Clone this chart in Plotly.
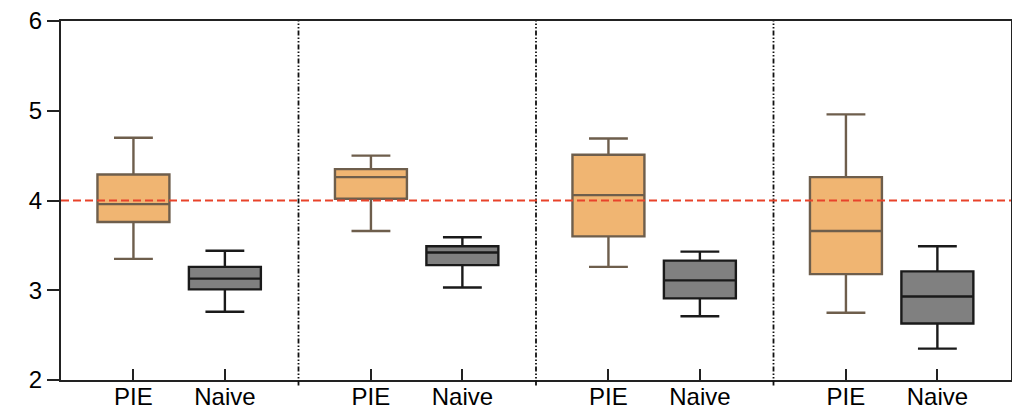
import plotly.graph_objects as go

groups = ["PIE", "Naive"]
n_panels = 4

# per panel [PIE, Naive]
upper = [[4.70, 3.44], [4.50, 3.59], [4.69, 3.43], [4.96, 3.49]]
q3 = [[4.29, 3.26], [4.35, 3.49], [4.51, 3.33], [4.26, 3.21]]
median = [[3.96, 3.13], [4.26, 3.42], [4.06, 3.11], [3.66, 2.93]]
q1 = [[3.76, 3.01], [4.02, 3.28], [3.60, 2.91], [3.18, 2.63]]
lower = [[3.35, 2.76], [3.66, 3.03], [3.26, 2.71], [2.75, 2.35]]

reference_value = 4.0
offsets = [0.305, 0.69]
fills = ["#F0B572", "#808080"]
lines = ["#6E5E4C", "#1A1A1A"]

fig = go.Figure()
for g in range(2):
    xs = [p + offsets[g] for p in range(n_panels)]
    fig.add_trace(go.Box(
        x=xs,
        q1=[q1[p][g] for p in range(n_panels)],
        median=[median[p][g] for p in range(n_panels)],
        q3=[q3[p][g] for p in range(n_panels)],
        lowerfence=[lower[p][g] for p in range(n_panels)],
        upperfence=[upper[p][g] for p in range(n_panels)],
        width=0.303,
        whiskerwidth=0.54,
        fillcolor=fills[g],
        line=dict(color=lines[g], width=2.4),
        boxpoints=False,
        hoverinfo="skip",
        showlegend=False,
    ))

for d in range(1, n_panels):
    fig.add_shape(type="line", xref="x", yref="paper", x0=d, x1=d, y0=-0.015, y1=1,
                  line=dict(color="#111111", width=1.8, dash="5px,2px,1.5px,2px,1.5px,2px"))

fig.add_shape(type="line", xref="x", yref="y", x0=0, x1=n_panels,
              y0=reference_value, y1=reference_value, layer="above",
              line=dict(color="#E8432A", width=2, dash="8px,4px"))

tickvals = [p + o for p in range(n_panels) for o in offsets]
ticktext = [groups[i % 2] for i in range(len(tickvals))]

fig.update_layout(
    width=1012, height=402,
    margin=dict(l=53, r=9, t=13, b=30, autoexpand=False),
    plot_bgcolor="white", paper_bgcolor="white",
    font=dict(family="Liberation Sans, Arial, sans-serif", size=24, color="#000000"),
    xaxis=dict(range=[0, n_panels], tickvals=tickvals, ticktext=ticktext,
               ticks="inside", ticklen=11, tickwidth=2, tickcolor="#222222",
               ticklabelstandoff=-6, ticklabeloverflow="allow",
               showline=True, linewidth=2, linecolor="#222222", mirror=True,
               showgrid=False, zeroline=False, fixedrange=True, automargin=False),
    yaxis=dict(range=[2, 6], tickvals=[2, 3, 4, 5, 6],
               ticks="outside", ticklen=12, tickwidth=2, tickcolor="#222222",
               ticklabeloverflow="allow",
               showline=True, linewidth=2, linecolor="#222222", mirror=True,
               showgrid=False, zeroline=False, fixedrange=True, automargin=False),
)

fig.write_html("out.html")
